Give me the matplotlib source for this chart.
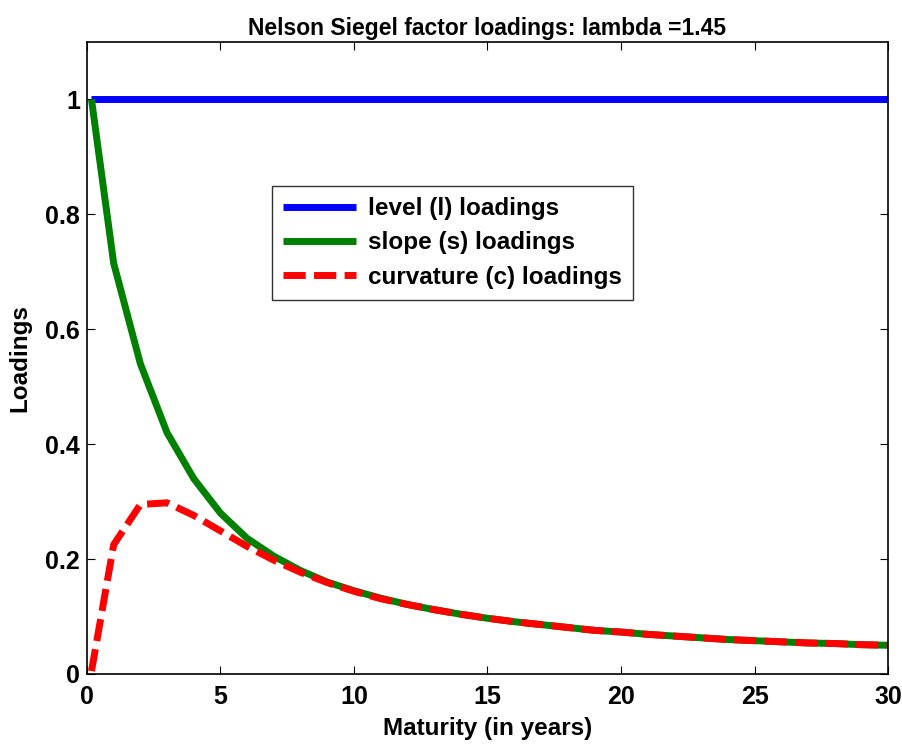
import matplotlib
matplotlib.use("Agg")
import matplotlib.pyplot as plt

# maturities in years (first point is a short maturity near zero)
maturity = [0.17] + list(range(1, 31))
level = [1.0] * len(maturity)
slope = [1.00, 0.715, 0.54, 0.42, 0.34, 0.28, 0.236, 0.205, 0.18, 0.16, 0.145,
         0.132, 0.121, 0.112, 0.104, 0.097, 0.091, 0.086, 0.081, 0.076, 0.073,
         0.069, 0.066, 0.063, 0.060, 0.058, 0.056, 0.054, 0.053, 0.051, 0.050]
curvature = [0.005, 0.225, 0.295, 0.298, 0.276, 0.249, 0.222, 0.198, 0.177, 0.159,
             0.144, 0.131, 0.121, 0.112, 0.104, 0.097, 0.091, 0.086, 0.081, 0.076,
             0.073, 0.069, 0.066, 0.063, 0.060, 0.058, 0.056, 0.054, 0.053, 0.051, 0.050]

plt.rcParams['font.family'] = ['Liberation Sans', 'DejaVu Sans']
plt.rcParams['font.weight'] = 'bold'

fig = plt.figure(figsize=(9.03, 7.44), dpi=100)
ax = fig.add_axes([0.0963, 0.0941, 0.8871, 0.8494])

ax.plot(maturity, level, color="#0000ff", lw=5, solid_capstyle="butt",
        label="level (l) loadings")
ax.plot(maturity, slope, color="#008000", lw=5, solid_capstyle="butt",
        label="slope (s) loadings")
ax.plot(maturity, curvature, color="#ff0000", lw=5, ls=(0, (3.2, 1.2)),
        dash_capstyle="butt", label="curvature (c) loadings")

ax.set_xlim(0, 30)
ax.set_ylim(0, 1.1)
ax.set_xticks([0, 5, 10, 15, 20, 25, 30])
ax.set_yticks([0, 0.2, 0.4, 0.6, 0.8, 1.0])
ax.set_yticklabels(["0", "0.2", "0.4", "0.6", "0.8", "1"])
ax.tick_params(direction="in", length=6, width=0.8, labelsize=18,
               top=True, right=True)
ax.tick_params(axis="x", pad=8)
ax.tick_params(axis="y", pad=5)
for lab in ax.get_xticklabels() + ax.get_yticklabels():
    lab.set_fontweight("bold")
for sp in ax.spines.values():
    sp.set_linewidth(1.2)

ax.set_xlabel("Maturity (in years)", fontsize=17.5, fontweight="bold", labelpad=6)
ax.set_ylabel("Loadings", fontsize=17.5, fontweight="bold", labelpad=10)
ax.set_title("Nelson Siegel factor loadings: lambda =1.45", fontsize=16.5,
             fontweight="bold", pad=5)

leg = ax.legend(loc="upper left", bbox_to_anchor=(0.231, 0.772), fontsize=17.5,
                handlelength=3.0, frameon=True, fancybox=False,
                borderpad=0.45, labelspacing=0.47, handletextpad=0.5,
                borderaxespad=0, edgecolor="black")
leg.get_frame().set_linewidth(1.0)
for t in leg.get_texts():
    t.set_fontweight("bold")

fig.savefig("out.png", dpi=100)
